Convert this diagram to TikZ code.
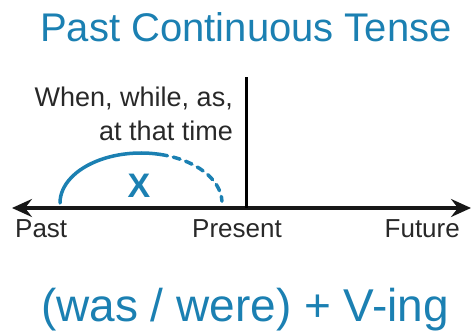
\documentclass[tikz,border=0pt]{standalone}
\usepackage{fontspec}
\setmainfont{Liberation Sans}
\usetikzlibrary{arrows.meta}
\definecolor{tenseblue}{RGB}{27,128,178}
\definecolor{inkgray}{RGB}{40,40,40}
\tikzset{
  label text/.style={inner sep=0pt, text=inkgray, font=\fontsize{26}{30}\selectfont},
  time arc/.style={tenseblue, line width=3.5pt, line cap=round}
}
\begin{document}
\begin{tikzpicture}[x=1pt, y=1pt]
    \useasboundingbox (0,0) rectangle (472,332);

    % Title
    \node[inner sep=0pt, anchor=base, text=tenseblue, font=\fontsize{40}{46}\selectfont] (title) at (246,290) {Past Continuous Tense};

    % Time line
    \coordinate (pastend) at (12,124);
    \coordinate (futureend) at (471,124);
    \coordinate (now) at (246.5,124);
    \coordinate (nowtop) at (246.5,255);
    \draw[line width=4pt, inkgray!60!black, {Stealth[length=20pt, width=18pt, inset=7pt]}-{Stealth[length=20pt, width=18pt, inset=7pt]}] (pastend) -- (futureend);
    \draw[line width=3pt, black] (now) -- (nowtop);

    % Signal words
    \node[label text, font=\fontsize{27}{31}\selectfont, anchor=base east] (when) at (233,225) {When, while, as,};
    \node[label text, font=\fontsize{27}{31}\selectfont, anchor=base east] (atthat) at (233,191) {at that time};

    % Action in progress
    \coordinate (arcstart) at (60,129);
    \draw[time arc] (arcstart) arc[start angle=180, end angle=76, x radius=81pt, y radius=50pt] coordinate (arcsplit);
    \draw[time arc, dash pattern=on 7pt off 6pt] (arcsplit) arc[start angle=76, end angle=2, x radius=81pt, y radius=50pt] coordinate (arcend);
    \node[inner sep=0pt, anchor=base, text=tenseblue, font=\fontsize{34}{40}\selectfont\bfseries] (action) at (139,134) {X};

    % Axis labels
    \node[label text, anchor=base west] (past) at (15,94) {Past};
    \node[label text, anchor=base west] (present) at (192,94) {Present};
    \node[label text, anchor=base east] (future) at (460,94) {Future};

    % Form
    \node[inner sep=0pt, anchor=base, text=tenseblue, font=\fontsize{46}{52}\selectfont] (form) at (245,10) {(was / were) + V-ing};
\end{tikzpicture}
\end{document}
